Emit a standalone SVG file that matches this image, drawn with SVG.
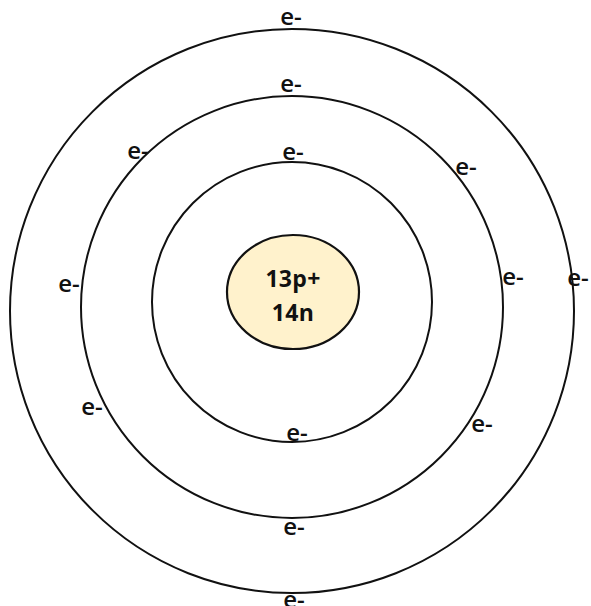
<svg xmlns="http://www.w3.org/2000/svg" width="591" height="606" viewBox="0 0 591 606">
  <style>
    .shell { fill: none; stroke: #111; stroke-width: 2; }
    .nucleus { fill: #FFF2CC; stroke: #111; stroke-width: 2.2; }
    .core { font-family: "Open Sans", "Liberation Sans", Arial, sans-serif; font-size: 23px; font-weight: 700; letter-spacing: 0.3px; fill: #111; text-anchor: middle; }
    .e { font-family: "Open Sans", "Liberation Sans", Arial, sans-serif; font-size: 24px; font-weight: 600; fill: #111; text-anchor: middle; }
  </style>
  <rect width="591" height="606" fill="#fff"/>

  <!-- electron shells -->
  <g id="shell-3">
    <circle class="shell" cx="292" cy="311" r="282"/>
  </g>
  <g id="shell-2">
    <circle class="shell" cx="292" cy="307" r="211"/>
  </g>
  <g id="shell-1">
    <circle class="shell" cx="292" cy="302" r="140"/>
  </g>

  <!-- nucleus: 13 protons, 14 neutrons -->
  <g id="nucleus">
    <ellipse class="nucleus" cx="293" cy="292" rx="66" ry="57"/>
    <text class="core" x="293" y="287">13p+</text>
    <text class="core" x="293" y="321">14n</text>
  </g>

  <!-- electrons: 2 in shell 1 -->
  <g id="electrons-1">
    <text class="e" x="293" y="160">e-</text>
    <text class="e" x="297" y="441">e-</text>
  </g>

  <!-- electrons: 8 in shell 2 -->
  <g id="electrons-2">
    <text class="e" x="291" y="92">e-</text>
    <text class="e" x="138" y="159">e-</text>
    <text class="e" x="466" y="175">e-</text>
    <text class="e" x="69" y="292">e-</text>
    <text class="e" x="513" y="285">e-</text>
    <text class="e" x="92" y="415">e-</text>
    <text class="e" x="482" y="432">e-</text>
    <text class="e" x="294" y="535">e-</text>
  </g>

  <!-- electrons: 3 in shell 3 -->
  <g id="electrons-3">
    <text class="e" x="291" y="25">e-</text>
    <text class="e" x="578" y="286">e-</text>
    <text class="e" x="294" y="608">e-</text>
  </g>
</svg>
